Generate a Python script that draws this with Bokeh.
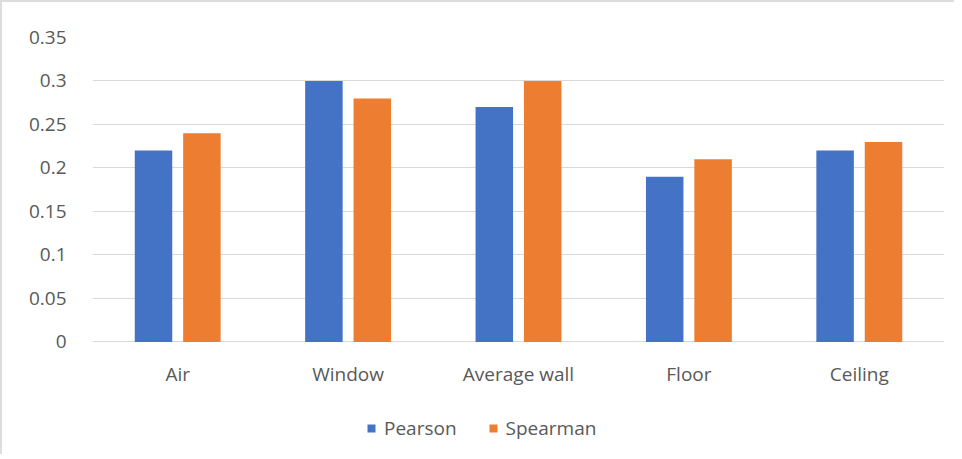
from bokeh.plotting import figure
from bokeh.models import FactorRange, FixedTicker, Legend, LegendItem, ColumnDataSource
from bokeh.core.properties import value
from bokeh.transform import dodge
from bokeh.embed import file_html
from bokeh.resources import INLINE

categories = ["Air", "Window", "Average wall", "Floor", "Ceiling"]
pearson = [0.22, 0.30, 0.27, 0.19, 0.22]
spearman = [0.24, 0.28, 0.30, 0.21, 0.23]
y_ticks = [0, 0.05, 0.1, 0.15, 0.2, 0.25, 0.3, 0.35]
y_tick_labels = ["0", "0.05", "0.1", "0.15", "0.2", "0.25", "0.3", "0.35"]
series_names = ["Pearson", "Spearman"]

BLUE = "#4472C4"
ORANGE = "#ED7D31"
TEXT = "#595959"
GRID = "#d9d9d9"
FONT = "Open Sans"
FS = "19px"

source = ColumnDataSource(dict(cat=categories, pearson=pearson, spearman=spearman))

# frame extends below zero so that category labels and legend live inside it
p = figure(width=954, height=454, x_range=FactorRange(*categories), y_range=(-0.1294, 0.35),
           output_backend="svg", toolbar_location=None,
           min_border_left=90, min_border_right=12, min_border_top=35, min_border_bottom=2)
p.styles = {"border-top": "2px solid #dcdcdc", "border-left": "2px solid #dcdcdc",
            "box-sizing": "border-box"}
p.outline_line_color = None
p.background_fill_color = "white"
p.border_fill_color = "white"

r1 = p.vbar(x=dodge("cat", -0.142, range=p.x_range), top="pearson", width=0.22,
            source=source, fill_color=BLUE, line_color=None)
r2 = p.vbar(x=dodge("cat", 0.142, range=p.x_range), top="spearman", width=0.22,
            source=source, fill_color=ORANGE, line_color=None)

# category labels
p.text(x="cat", y=-0.037, text="cat", source=source, text_align="center",
       text_baseline="middle", text_font=value(FONT), text_font_size=FS,
       text_color=TEXT)

p.xgrid.grid_line_color = None
p.xaxis.visible = False
p.ygrid.grid_line_color = GRID
p.ygrid.grid_line_width = 1
p.yaxis.ticker = FixedTicker(ticks=y_ticks)
p.ygrid.ticker = FixedTicker(ticks=y_ticks)
p.yaxis.major_label_overrides = {t: l for t, l in zip(y_ticks, y_tick_labels)}
p.yaxis.axis_line_color = None
p.yaxis.major_tick_line_color = None
p.yaxis.minor_tick_line_color = None
p.yaxis.major_label_text_font = FONT
p.yaxis.major_label_text_font_size = FS
p.yaxis.major_label_text_color = TEXT
p.yaxis.major_label_standoff = 20

legend = Legend(items=[LegendItem(label=series_names[0], renderers=[r1]),
                       LegendItem(label=series_names[1], renderers=[r2])],
                orientation="horizontal", location=(274, 13))
legend.label_text_font = FONT
legend.label_text_font_size = FS
legend.label_text_color = TEXT
legend.glyph_width = 10
legend.glyph_height = 10
legend.spacing = 31
legend.label_standoff = 8
legend.background_fill_alpha = 0
legend.border_line_color = None
p.add_layout(legend, "center")

open("out.html", "w").write(file_html(p, INLINE))
